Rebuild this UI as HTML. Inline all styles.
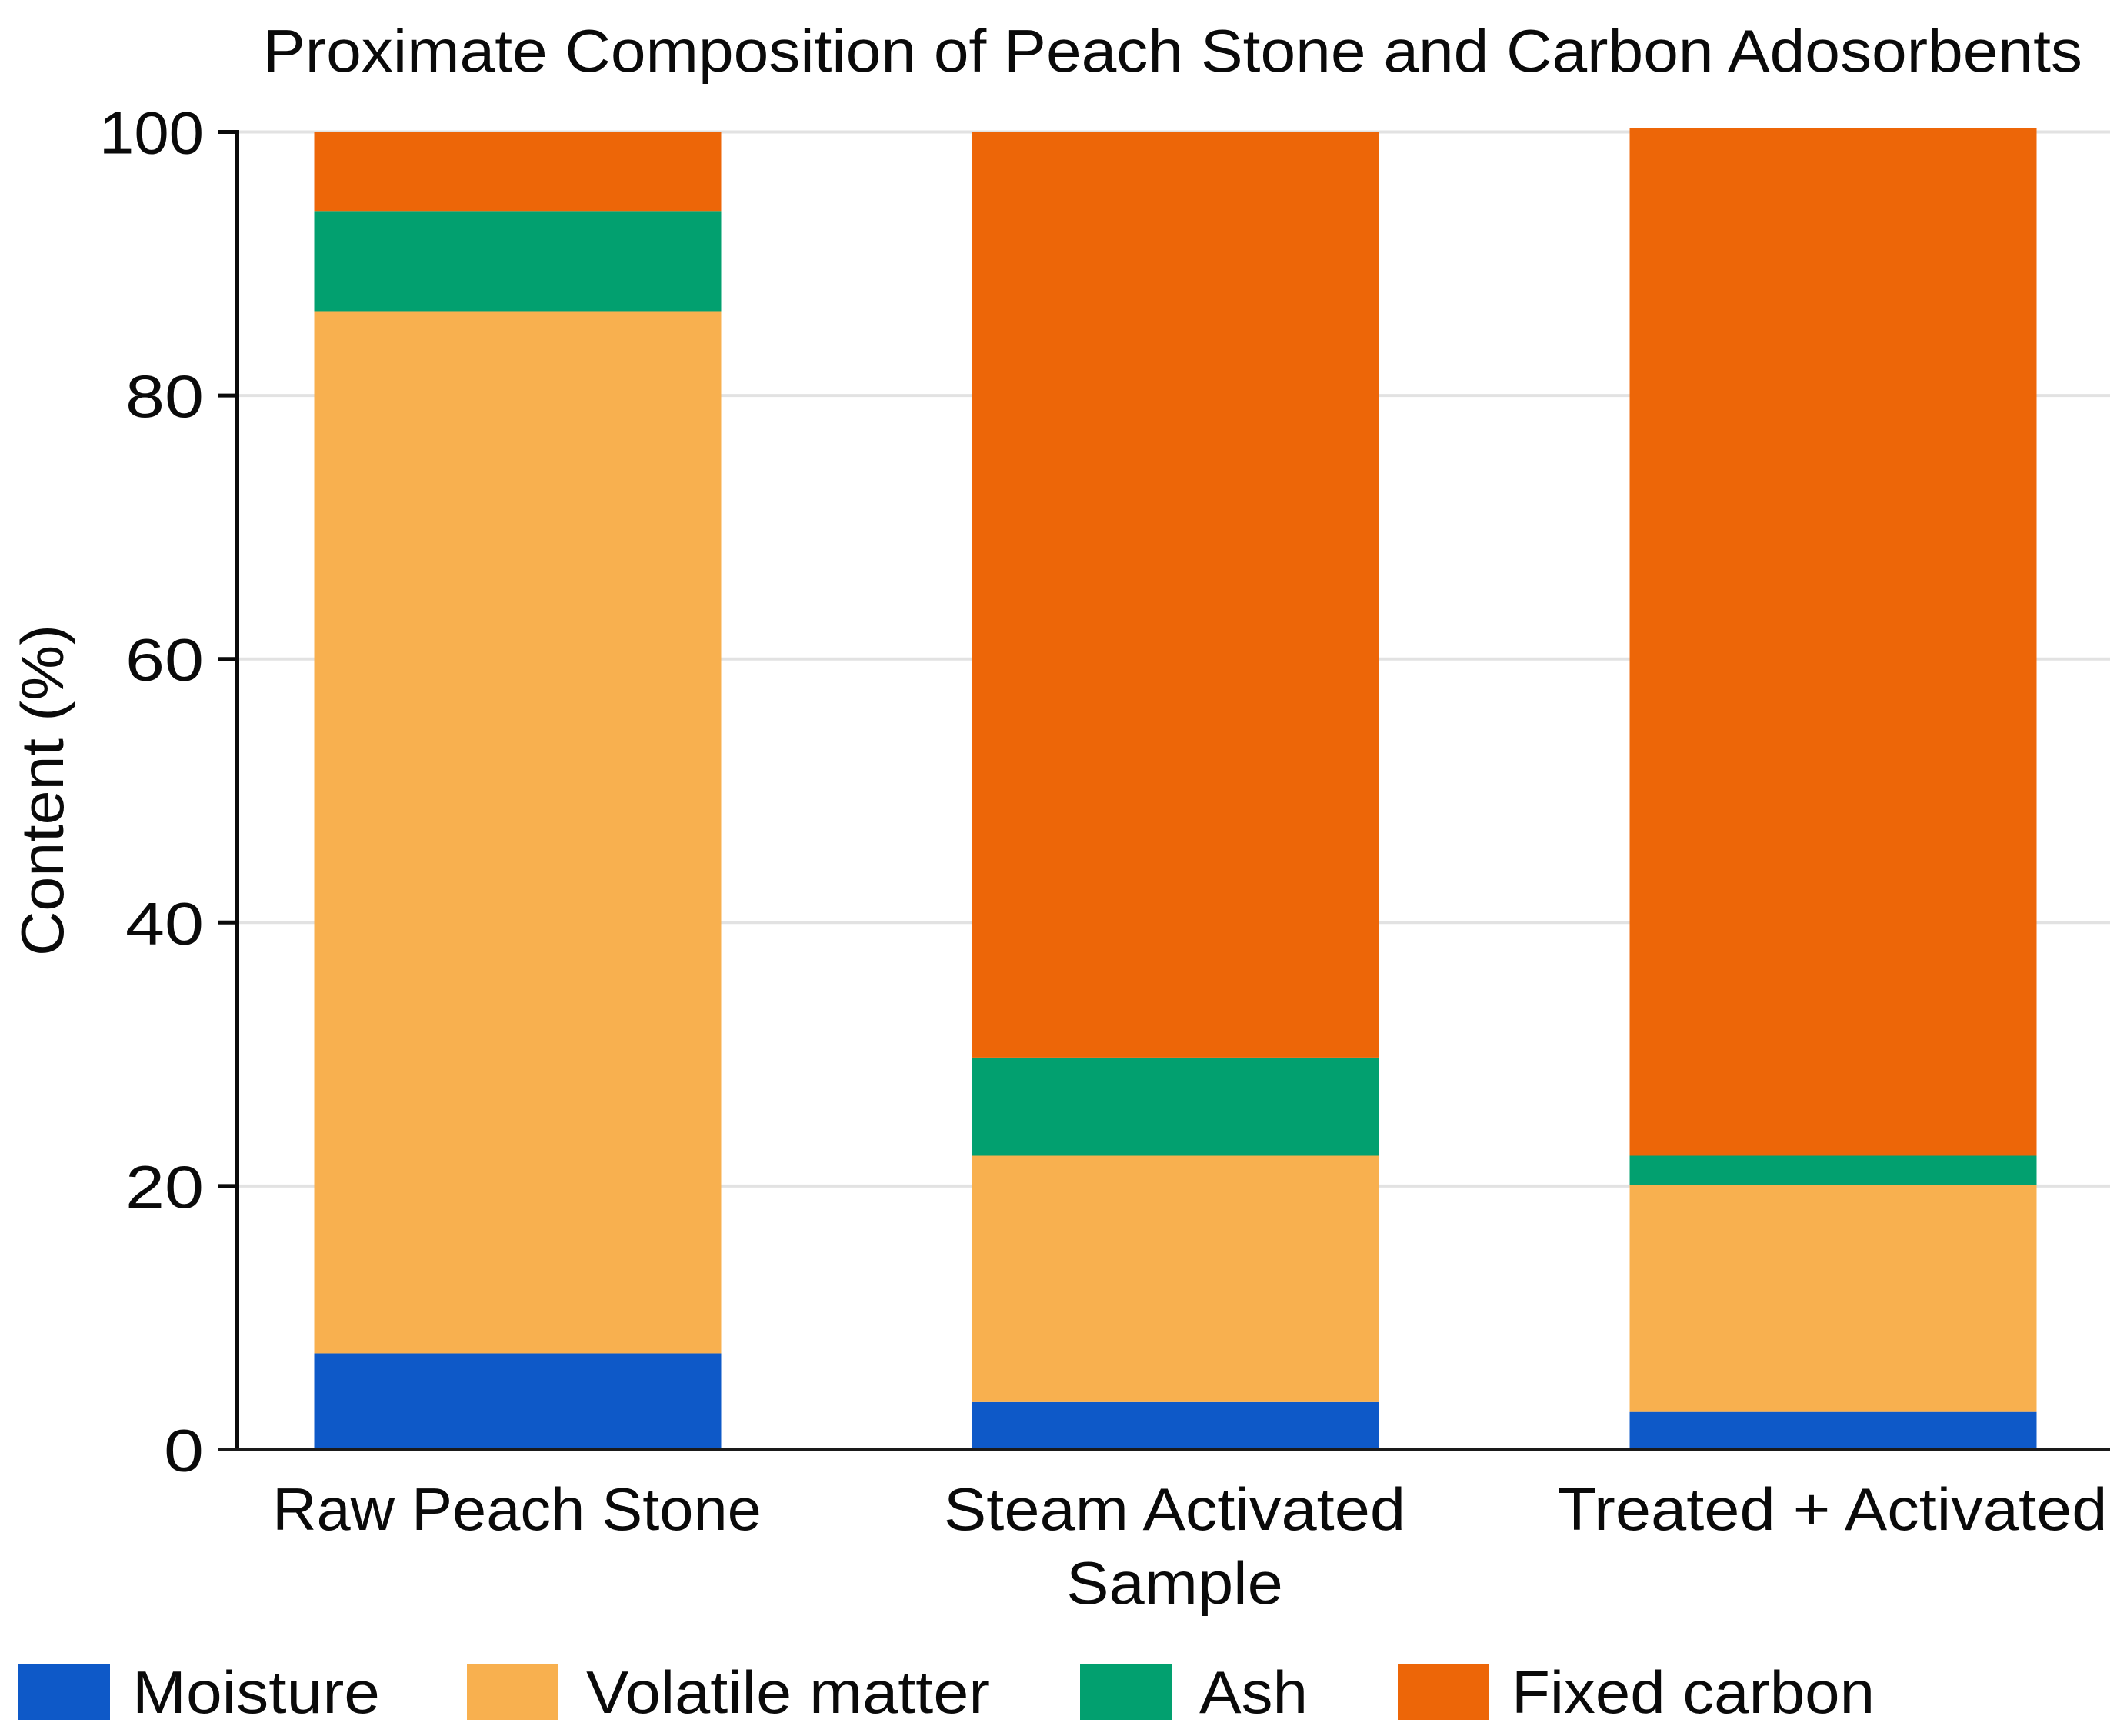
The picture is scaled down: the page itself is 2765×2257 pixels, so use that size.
<!DOCTYPE html>
<html lang="en">
<head>
<meta charset="utf-8">
<title>Proximate Composition of Peach Stone and Carbon Adosorbents</title>
<style>
  html, body { margin: 0; padding: 0; background: #ffffff; }
  svg { display: block; }
  text { font-family: "Liberation Sans", Arial, sans-serif; font-size: 78px; fill: #0a0a0a; }
</style>
</head>
<body>
<svg id="chart" xmlns="http://www.w3.org/2000/svg" width="2765" height="2257" viewBox="0 0 2765 2257">
  <rect x="0" y="0" width="2765" height="2257" fill="#ffffff"/>
  <g id="grid"></g>
  <g id="bars"></g>
  <g id="axes"></g>
  <text x="342" y="93" textLength="2365" lengthAdjust="spacingAndGlyphs">Proximate Composition of Peach Stone and Carbon Adosorbents</text>
  <text transform="translate(82 1243) rotate(-90)" textLength="431" lengthAdjust="spacingAndGlyphs">Content (%)</text>
  <g>
    <g>
      <rect x="24" y="2163" width="119" height="73" fill="#0e59c8"/>
      <text x="172" y="2227" textLength="322" lengthAdjust="spacingAndGlyphs">Moisture</text>
    </g>
    <g>
      <rect x="607" y="2163" width="119" height="73" fill="#f8b04f"/>
      <text x="762" y="2227" textLength="525" lengthAdjust="spacingAndGlyphs">Volatile matter</text>
    </g>
    <g>
      <rect x="1404" y="2163" width="119" height="73" fill="#02a06f"/>
      <text x="1559" y="2227" textLength="141" lengthAdjust="spacingAndGlyphs">Ash</text>
    </g>
    <g>
      <rect x="1817" y="2163" width="119" height="73" fill="#ed6608"/>
      <text x="1965" y="2227" textLength="472" lengthAdjust="spacingAndGlyphs">Fixed carbon</text>
    </g>
  </g>
</svg>
<script>
// Chart data
const categories = [["Raw Peach Stone"], ["Steam Activated", "Sample"], ["Treated + Activated"]];
const moisture = [7.3, 3.6, 2.85];
const volatileMatter = [79.1, 18.7, 17.25];
const ash = [7.6, 7.45, 2.2];
const fixedCarbon = [6.0, 70.25, 78.0];
const yTicks = [0, 20, 40, 60, 80, 100];

// Axis functions
const SVG_NS = 'http://www.w3.org/2000/svg';
function yScale(v) { return 1884.5 - 17.13 * v; }
function xScale(i) { return 673 + 855 * i; }
const BAR_WIDTH = 529;
const AXIS_X = 308.5;
const PLOT_RIGHT = 2743;
const TICK_LEFT = 284;

function make(tag, attrs, parent) {
  const el = document.createElementNS(SVG_NS, tag);
  for (const k in attrs) el.setAttribute(k, attrs[k]);
  parent.appendChild(el);
  return el;
}

const grid = document.getElementById('grid');
const barsLayer = document.getElementById('bars');
const axes = document.getElementById('axes');

// Gridlines and y ticks
function tickLabelWidth(text) {
  if (text.length >= 3) return 136;
  if (text.length === 2) return 102;
  return 52;
}
yTicks.forEach(function (t) {
  const y = yScale(t);
  if (t !== 0) {
    const g = make('line', { x1: AXIS_X, x2: PLOT_RIGHT, y1: y, y2: y, stroke: '#e2e2e2', 'stroke-width': 4 }, grid);
    
    
    const tick = make('line', { x1: TICK_LEFT, x2: AXIS_X, y1: y, y2: y, stroke: '#0a0a0a', 'stroke-width': 5 }, axes);
    
    
  }
  const text = String(t);
  const label = make('text', { x: 265, y: y + 28, 'text-anchor': 'end', textLength: tickLabelWidth(text), lengthAdjust: 'spacingAndGlyphs' }, axes);
  label.textContent = text;
  
  
});

// Stacked bars
const seriesList = [
  { key: 'moisture', values: moisture, color: '#0e59c8' },
  { key: 'volatile-matter', values: volatileMatter, color: '#f8b04f' },
  { key: 'ash', values: ash, color: '#02a06f' },
  { key: 'fixed-carbon', values: fixedCarbon, color: '#ed6608' }
];
categories.forEach(function (cat, i) {
  let base = 0;
  seriesList.forEach(function (s) {
    const top = base + s.values[i];
    const r = make('rect', {
      x: xScale(i) - BAR_WIDTH / 2,
      y: yScale(top),
      width: BAR_WIDTH,
      height: yScale(base) - yScale(top),
      fill: s.color
    }, barsLayer);
    
    
    base = top;
  });
});

// Axis lines
const yAxisLine = make('line', { x1: AXIS_X, x2: AXIS_X, y1: yScale(100) - 2.5, y2: yScale(0), stroke: '#0a0a0a', 'stroke-width': 5 }, axes);


const xAxisLine = make('line', { x1: TICK_LEFT, x2: PLOT_RIGHT, y1: yScale(0), y2: yScale(0), stroke: '#1a1a1a', 'stroke-width': 5 }, axes);



// Category labels (the reference face differs from Liberation Sans, so stretch each group to fit)
function labelStretch(i) {
  return i === 0 ? 1.018 : 1.065;
}
categories.forEach(function (lines, i) {
  lines.forEach(function (line, j) {
    const t = make('text', { x: xScale(i) - 1, y: 1989 + j * 96, 'text-anchor': 'middle' }, axes);
    t.textContent = line;
    
    
    const natural = t.getComputedTextLength();
    t.setAttribute('textLength', natural * labelStretch(i));
    t.setAttribute('lengthAdjust', 'spacingAndGlyphs');
  });
});
</script>
</body>
</html>
